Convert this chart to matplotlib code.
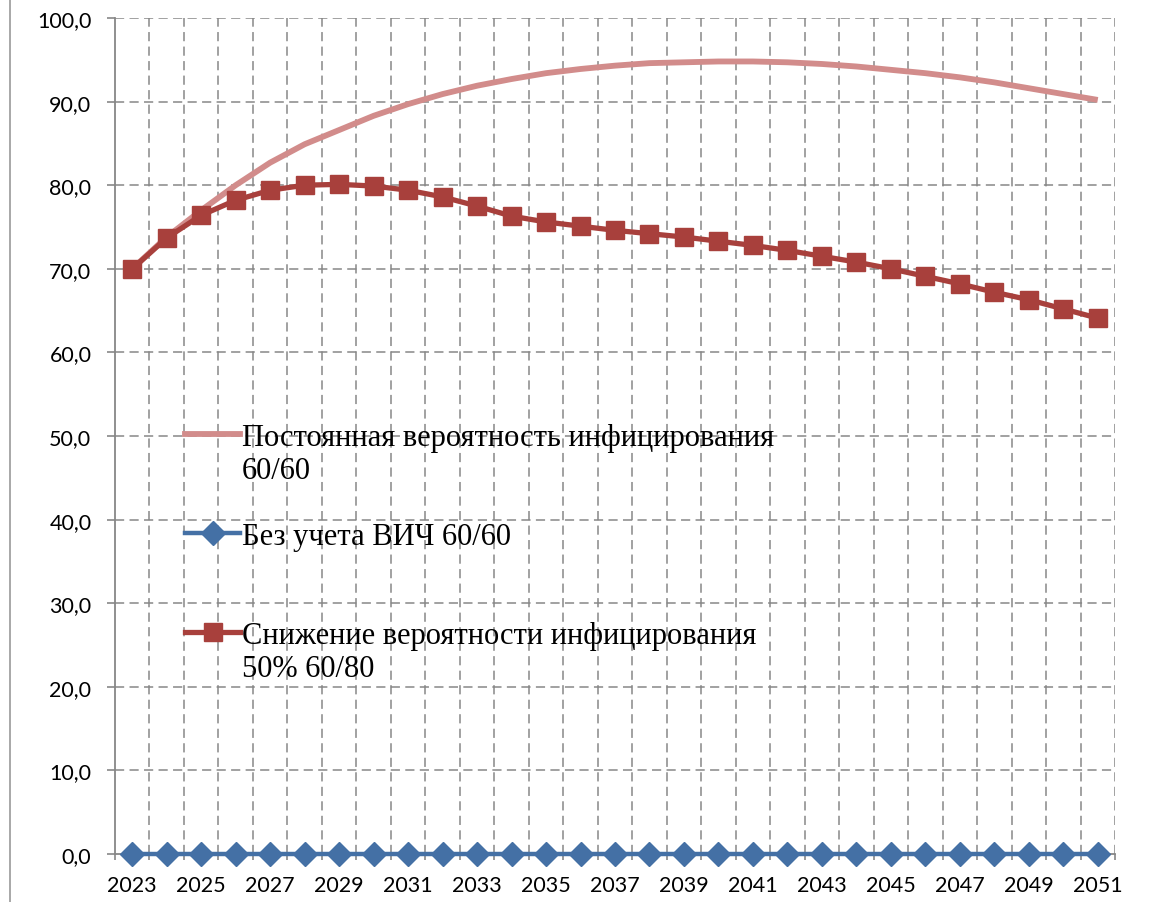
import matplotlib
matplotlib.use("Agg")
import matplotlib.pyplot as plt
from matplotlib.lines import Line2D
import numpy as np

years = list(range(2023, 2052))
constant_prob = [70.0, 73.8, 77.0, 80.0, 82.7, 84.9, 86.6, 88.3, 89.7, 90.9,
                 91.9, 92.7, 93.4, 93.9, 94.3, 94.6, 94.7, 94.8, 94.8, 94.7,
                 94.5, 94.2, 93.8, 93.4, 92.9, 92.3, 91.6, 90.9, 90.2]
no_hiv = [0.0] * 29
reduced_prob = [70.0, 73.7, 76.4, 78.2, 79.4, 80.0, 80.1, 79.9, 79.4, 78.6,
                77.5, 76.3, 75.6, 75.1, 74.6, 74.2, 73.8, 73.3, 72.8, 72.2,
                71.5, 70.8, 70.0, 69.1, 68.2, 67.2, 66.3, 65.2, 64.1]

label_const = ["Постоянная вероятность инфицирования", "60/60"]
label_nohiv = ["Без учета ВИЧ 60/60"]
label_reduced = ["Снижение вероятности инфицирования", "50% 60/80"]

yticks = list(range(0, 101, 10))
ytick_labels = [f"{v},0" for v in yticks]
xtick_years = list(range(2023, 2052, 2))

c_pink = "#D28C8B"
c_blue = "#4470A5"
c_red = "#A8403C"
c_grid = "#878787"

W, H, DPI = 1153, 903, 100
fig = plt.figure(figsize=(W / DPI, H / DPI), dpi=DPI)
fig.patch.set_facecolor("white")
ax = fig.add_axes([115 / W, 1 - 855 / H, 1000 / W, 836 / H])

ax.set_xlim(2022.5, 2051.5)
ax.set_ylim(0, 100)

grid_ls = (0, (6, 3.5))
ax.set_yticks(yticks)
ax.set_yticklabels(ytick_labels)
ax.set_xticks(xtick_years)
ax.set_xticklabels([str(y) for y in xtick_years])
ax.set_xticks(np.arange(2022.5, 2052.0, 1.0), minor=True)

for v in yticks[1:]:
    ax.axhline(v, color=c_grid, lw=1.1, ls=grid_ls, zorder=1)
for xv in np.arange(2023.5, 2052.0, 1.0):
    ax.axvline(xv, color=c_grid, lw=1.1, ls=grid_ls, zorder=1)

for s in ["top", "right"]:
    ax.spines[s].set_visible(False)
for s in ["left", "bottom"]:
    ax.spines[s].set_color(c_grid)
    ax.spines[s].set_linewidth(1.3)

ax.tick_params(axis="y", which="major", length=6, width=1.2, color=c_grid,
               pad=11, labelsize=15.5)
ax.tick_params(axis="x", which="major", length=0, pad=15, labelsize=15.5)
ax.tick_params(axis="x", which="minor", length=4, width=1.2, color=c_grid)
for lab in ax.get_xticklabels() + ax.get_yticklabels():
    lab.set_fontfamily("Lato")

l1, = ax.plot(years, constant_prob, color=c_pink, lw=4.2, zorder=3,
              solid_capstyle="butt")
l2, = ax.plot(years, no_hiv, color=c_blue, lw=3.2, marker="D", markersize=12,
              markeredgecolor=c_blue, zorder=4, clip_on=False)
l3, = ax.plot(years, reduced_prob, color=c_red, lw=3.8, marker="s",
              markersize=13, markeredgecolor=c_red, zorder=5, clip_on=False)

blank = Line2D([], [], linestyle="none")
h1 = Line2D([], [], color=c_pink, lw=4.2)
h2 = Line2D([], [], color=c_blue, lw=3.2, marker="D", markersize=12)
h3 = Line2D([], [], color=c_red, lw=3.8, marker="s", markersize=13)
handles = [h1, blank, blank, h2, blank, blank, h3, blank]
labels = [label_const[0], label_const[1], " ", label_nohiv[0], " ", " ",
          label_reduced[0], label_reduced[1]]
leg = ax.legend(handles, labels, loc="upper left",
                bbox_to_anchor=(70 / 1000, (855 - 424) / 836),
                frameon=False, borderpad=0, borderaxespad=0,
                handlelength=1.8, handletextpad=0.05, labelspacing=0.13,
                prop={"family": "Liberation Serif", "size": 22})

fig.add_artist(Line2D([10 / W, 10 / W], [0, 1], color="#9A9A9A", lw=1.2,
                      transform=fig.transFigure))

fig.savefig("out.png", dpi=DPI)
